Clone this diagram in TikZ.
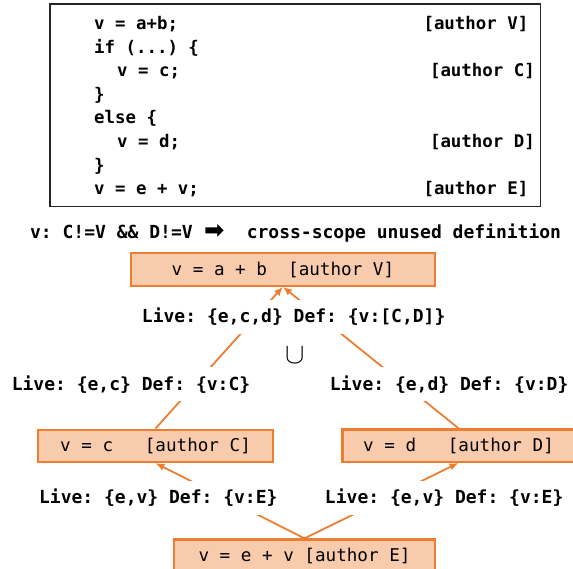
\documentclass[tikz,border=0pt]{standalone}
\usepackage{fontspec}
\usepackage{graphicx}
\setmonofont{DejaVu Sans Mono}
\newfontfamily\symfont{DejaVu Sans}
\definecolor{accent}{RGB}{237, 125, 49}
\definecolor{accentlight}{RGB}{248, 203, 173}
\usetikzlibrary{arrows.meta, positioning}

\tikzset{
  codeline/.style={anchor=base west, inner sep=0pt,
    font=\ttfamily\bfseries\fontsize{17.4}{20}\selectfont},
  authortag/.style={anchor=base east, inner sep=0pt,
    font=\ttfamily\bfseries\fontsize{17.4}{20}\selectfont},
  defbox/.style={rectangle, draw=accent, fill=accentlight, line width=2.2pt,
    minimum height=32.4pt, inner sep=0pt,
    font=\ttfamily\fontsize{17.6}{20}\selectfont},
  livetag/.style={fill=white, minimum height=34pt, inner xsep=3pt, inner ysep=0pt,
    font=\ttfamily\bfseries\fontsize{18}{20}\selectfont},
  flow/.style={draw=accent, line width=1.8pt, -{Latex[length=9pt,width=7.5pt]}},
}

\begin{document}
\begin{tikzpicture}[x=1pt, y=-1pt]
  \useasboundingbox (0,0) rectangle (573,569);

  % source listing
  \draw[line width=1.3pt, black!85] (50,4) rectangle (540.7,206.5);
  \foreach \x/\row/\code in {94/0/{v = a+b;}, 94/1/{if (...) \{}, 117/2/{v = c;},
      94/3/\}, 94/4/{else \{}, 117/5/{v = d;}, 94/6/\}, 94/7/{v = e + v;}}
    \node[codeline] (line\row) at (\x, 29.5+23.6*\row) {\code};
  \node[authortag] (tagV) at (528.5, 29.5) {[author V]};
  \node[authortag] (tagC) at (535, 76.7) {[author C]};
  \node[authortag] (tagD) at (535, 147.3) {[author D]};
  \node[authortag] (tagE) at (528.5, 194.7) {[author E]};

  \node[anchor=base, inner sep=0pt, font=\ttfamily\bfseries\fontsize{18}{20}\selectfont]
    (summary) at (295.6, 239)
    {v: C!=V \&\& D!=V~\makebox[1.2em]{\scalebox{1.35}{\symfont\bfseries ➡}}~~cross-scope unused definition};

  % definitions
  \node[defbox, minimum width=304.3pt] (defV) at (282.9, 269.5) {v = a + b~~[author V]};
  \node[defbox, minimum width=234.4pt] (defC) at (155.5, 445.8) {v = c~~~[author C]};
  \node[defbox, minimum width=232pt] (defD) at (458.5, 445.6) {v = d~~~[author D]};
  \node[defbox, minimum width=261pt] (defE) at (304.5, 555.7) {v = e + v [author E]};

  \draw[flow] (defC.north) -- (defV.south);
  \draw[flow] (defD.north) -- (defV.south);
  \draw[flow] (defE.north) -- (defC.south);
  \draw[flow] (defE.north) -- (defD.south);

  % live / def sets
  \node[livetag] (liveV) at (293.7, 316.7) {Live: \{e,c,d\} Def: \{v:[C,D]\}};
  \node[livetag] (liveC) at (131, 384.2) {Live: \{e,c\} Def: \{v:C\}};
  \node[livetag] (liveD) at (449.2, 384.2) {Live: \{e,d\} Def: \{v:D\}};
  \node[livetag] (liveEC) at (158.3, 497.5) {Live: \{e,v\} Def: \{v:E\}};
  \node[livetag] (liveED) at (444.2, 497.5) {Live: \{e,v\} Def: \{v:E\}};
  \node[inner sep=0pt] (merge) at (295, 355.7) {\scalebox{2.9}{$\cup$}};
\end{tikzpicture}
\end{document}
